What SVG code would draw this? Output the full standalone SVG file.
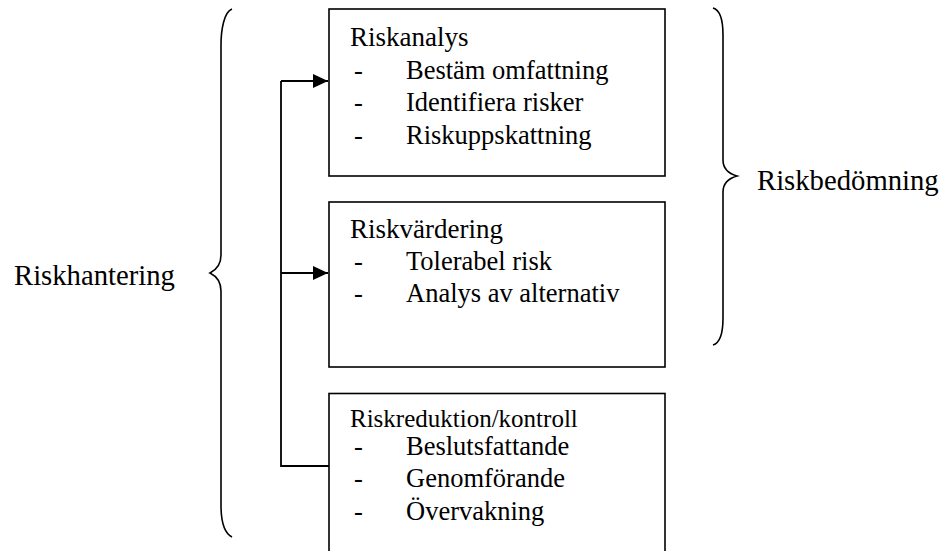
<svg xmlns="http://www.w3.org/2000/svg" width="946" height="551" viewBox="0 0 946 551">
<style>
text{font-family:"Liberation Serif","Times New Roman",serif;fill:#000}
.hd{font-size:27px}
.itm{font-size:26.5px}
.side{font-size:28.7px}
.hd3{font-size:25px}
.box{fill:#fff;stroke:#000;stroke-width:1.6}
.brace{fill:none;stroke:#000;stroke-width:1.6}
.con{fill:none;stroke:#000;stroke-width:1.8}
</style>
<defs>
<marker id="arr" markerUnits="userSpaceOnUse" markerWidth="16" markerHeight="16" refX="15" refY="7" orient="auto">
<path d="M0,0 L15,7 L0,14 Z" fill="#000"/>
</marker>
</defs>
<g id="connectors">
<path class="con" d="M281,81 L281,466 L329,466"/>
<path class="con" d="M281,81 L328,81" marker-end="url(#arr)"/>
<path class="con" d="M281,273 L328,273" marker-end="url(#arr)"/>
</g>
<g id="brace-left">
<path class="brace" d="M232,9 C224,12 221,30 221,45 L221,255 C221,265 216,270 210,273 C216,276 221,281 221,291 L221,505 C221,520 224,533 232,537"/>
<text class="side" x="14" y="285">Riskhantering</text>
</g>
<g id="brace-right">
<path class="brace" d="M713,8 C720,10 723,20 723,35 L723,160 C723,170 730,174 737,176 C730,178 723,182 723,192 L723,318 C723,333 720,343 713,345"/>
<text class="side" x="757" y="190">Riskbedömning</text>
</g>
<g id="riskanalys">
<rect class="box" x="329" y="9" width="336" height="167"/>
<text class="hd" x="350" y="46">Riskanalys</text>
<text class="itm" x="354" y="78.5">-</text><text class="itm" x="406" y="78.5">Bestäm omfattning</text>
<text class="itm" x="354" y="111">-</text><text class="itm" x="406" y="111">Identifiera risker</text>
<text class="itm" x="354" y="143.5">-</text><text class="itm" x="406" y="143.5">Riskuppskattning</text>
</g>
<g id="riskvardering">
<rect class="box" x="329" y="202" width="336" height="165"/>
<text class="hd" x="350" y="238">Riskvärdering</text>
<text class="itm" x="354" y="270">-</text><text class="itm" x="406" y="270">Tolerabel risk</text>
<text class="itm" x="354" y="302">-</text><text class="itm" x="406" y="302">Analys av alternativ</text>
</g>
<g id="riskreduktion">
<rect class="box" x="329" y="393.5" width="336" height="180"/>
<text class="hd3" x="350" y="427">Riskreduktion/kontroll</text>
<text class="itm" x="354" y="455">-</text><text class="itm" x="406" y="455">Beslutsfattande</text>
<text class="itm" x="354" y="487">-</text><text class="itm" x="406" y="487">Genomförande</text>
<text class="itm" x="354" y="520">-</text><text class="itm" x="406" y="520">Övervakning</text>
</g>
</svg>
